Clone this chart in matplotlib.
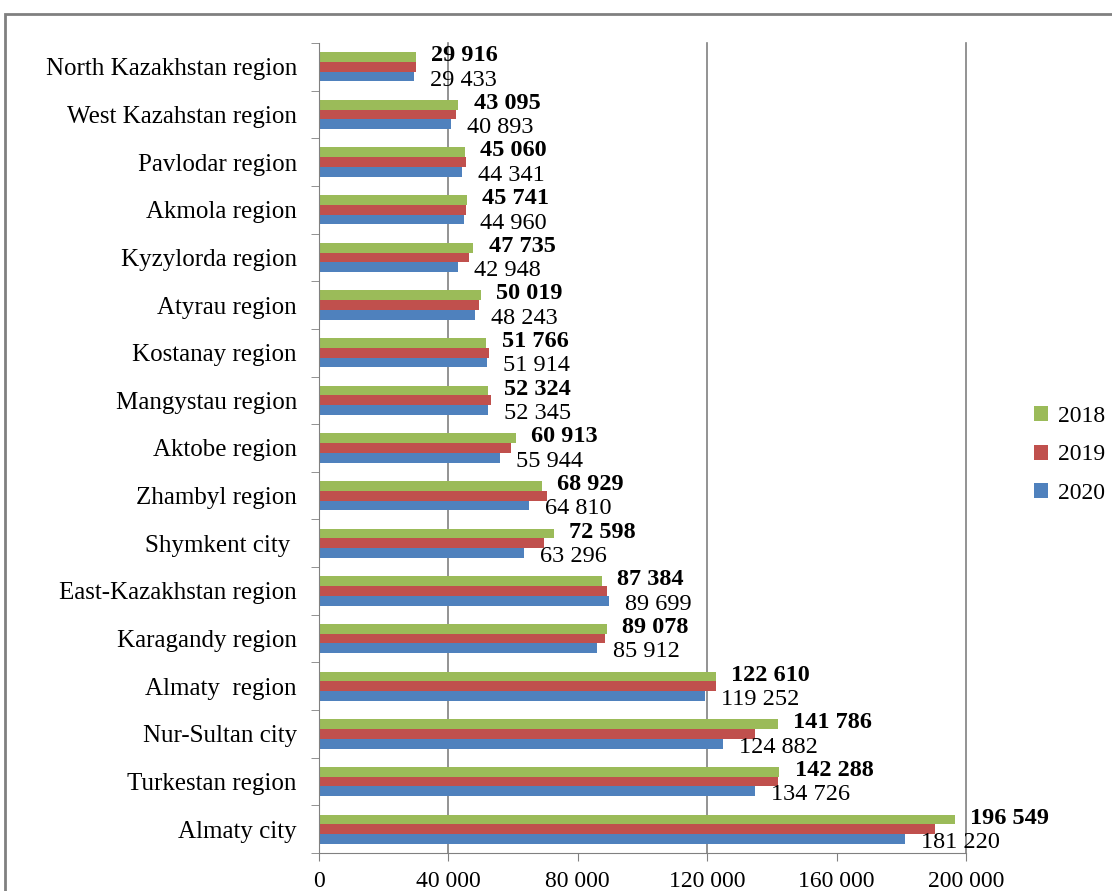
import numpy as np
import matplotlib.pyplot as plt
from matplotlib.patches import Rectangle
from matplotlib.ticker import FixedLocator, FuncFormatter

plt.rcParams['font.family'] = ['Liberation Serif', 'DejaVu Serif']

regions = ["Almaty city", "Turkestan region", "Nur-Sultan city", "Almaty  region",
           "Karagandy region", "East-Kazakhstan region", "Shymkent city ",
           "Zhambyl region", "Aktobe region", "Mangystau region", "Kostanay region",
           "Atyrau region", "Kyzylorda region", "Akmola region", "Pavlodar region",
           "West Kazahstan region", "North Kazakhstan region"]
v2018 = [196549, 142288, 141786, 122610, 89078, 87384, 72598, 68929, 60913,
         52324, 51766, 50019, 47735, 45741, 45060, 43095, 29916]
v2019 = [190500, 142000, 134700, 122700, 88500, 89000, 69400, 70500, 59400,
         53200, 52600, 49500, 46400, 45300, 45500, 42400, 30100]
v2020 = [181220, 134726, 124882, 119252, 85912, 89699, 63296, 64810, 55944,
         52345, 51914, 48243, 42948, 44960, 44341, 40893, 29433]

def fmt(v):
    return f"{v:,}".replace(",", " ")

fig = plt.figure(figsize=(11.12, 8.91), dpi=100)
ax = fig.add_axes([319/1112, 1 - 853/891, (966 - 319)/1112, (853 - 43)/891])

# outer frame
fig.patches.append(Rectangle((5/1112, -0.05), 1.2, 1 - 14/891 + 0.05,
                             transform=fig.transFigure, fill=False,
                             edgecolor='#808080', linewidth=2))

y = np.arange(len(regions))
h = 0.205
ax.barh(y + h, v2018, h, color='#9BBB59', label='2018')
ax.barh(y, v2019, h, color='#C0504D', label='2019')
ax.barh(y - h, v2020, h, color='#4F81BD', label='2020')

for i in range(len(regions)):
    ax.annotate(fmt(v2018[i]), (v2018[i], y[i] + h), xytext=(11, 1),
                textcoords='offset points', va='center', ha='left',
                fontsize=17.5, fontweight='bold', annotation_clip=False)
    ax.annotate(fmt(v2020[i]), (v2020[i], y[i] - h), xytext=(11.5, -2.5),
                textcoords='offset points', va='center', ha='left',
                fontsize=17.5, annotation_clip=False)

ax.set_xlim(0, 200000)
ax.set_ylim(-0.5, len(regions) - 0.5)
ax.set_xticks(np.arange(0, 200001, 40000))
ax.xaxis.set_major_formatter(FuncFormatter(lambda v, p: fmt(int(v))))
for gx in [40000, 120000, 200000]:
    ax.axvline(gx, color='#808080', linewidth=1.2, zorder=0, clip_on=False)

ax.set_yticks(y)
ax.set_yticklabels(regions)
ax.yaxis.set_minor_locator(FixedLocator(np.arange(-0.5, len(regions), 1)))
ax.tick_params(axis='y', which='major', length=0, pad=16, labelsize=18)
ax.tick_params(axis='y', which='minor', length=6, color='#808080')
ax.tick_params(axis='x', length=6, color='#808080', labelsize=17, pad=7)

for s in ['top', 'right']:
    ax.spines[s].set_visible(False)
for s in ['left', 'bottom']:
    ax.spines[s].set_color('#808080')

ax.legend(loc='center left', bbox_to_anchor=(1013/1112, 1 - 455/891),
          bbox_transform=fig.transFigure, frameon=False, fontsize=17,
          handlelength=0.6, handleheight=0.6, handletextpad=0.4,
          labelspacing=0.75)

fig.savefig('out.png', dpi=100)
